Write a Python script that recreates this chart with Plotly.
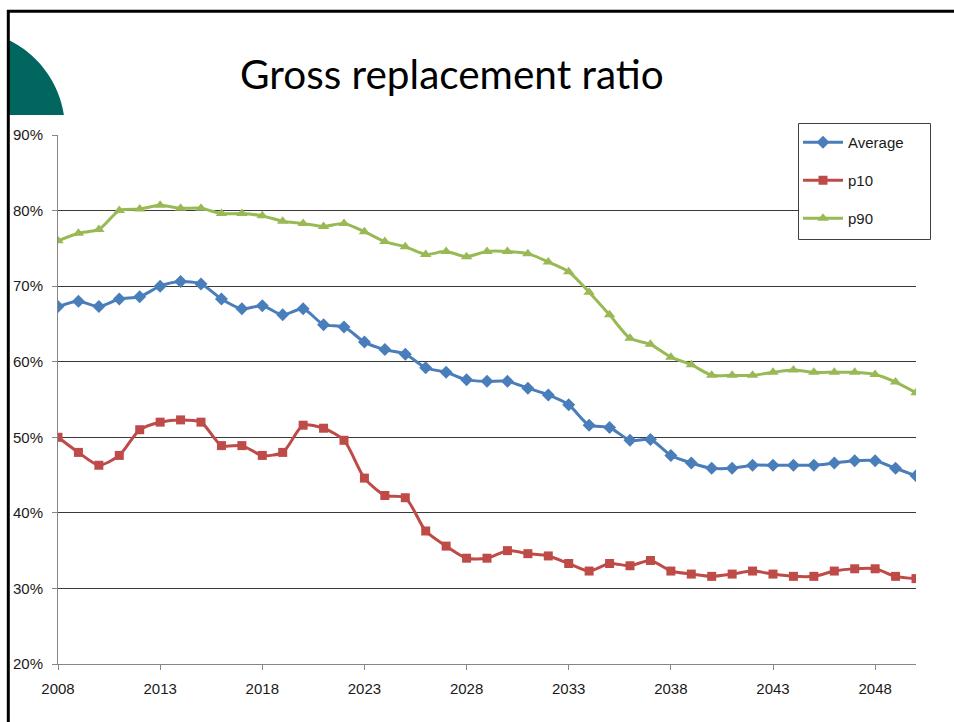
import numpy as np
import plotly.graph_objects as go

# Gross replacement ratio projections, 2008-2050 (percent)
years = list(range(2008, 2051))

average = [67.3, 68.0, 67.3, 68.3, 68.6, 70.0, 70.6, 70.3, 68.3, 67.0,
           67.4, 66.2, 67.0, 64.9, 64.6, 62.6, 61.6, 61.0, 59.2, 58.6,
           57.6, 57.4, 57.4, 56.5, 55.6, 54.3, 51.6, 51.3, 49.6, 49.7,
           47.6, 46.6, 45.9, 45.9, 46.3, 46.3, 46.3, 46.3, 46.6, 46.9,
           46.9, 45.9, 44.9]

p10 = [50.0, 48.0, 46.3, 47.6, 51.0, 52.0, 52.3, 52.0, 48.9, 48.9,
       47.6, 48.0, 51.6, 51.2, 49.6, 44.6, 42.3, 42.0, 37.6, 35.6,
       34.0, 34.0, 35.0, 34.6, 34.3, 33.3, 32.3, 33.3, 33.0, 33.7,
       32.3, 31.9, 31.6, 31.9, 32.3, 31.9, 31.6, 31.6, 32.3, 32.6,
       32.6, 31.6, 31.3]

p90 = [76.0, 77.0, 77.5, 80.0, 80.2, 80.7, 80.3, 80.3, 79.6, 79.6,
       79.3, 78.6, 78.3, 77.9, 78.3, 77.2, 75.9, 75.2, 74.2, 74.6,
       73.9, 74.6, 74.6, 74.3, 73.2, 71.9, 69.2, 66.2, 63.1, 62.3,
       60.6, 59.6, 58.2, 58.2, 58.2, 58.6, 58.9, 58.6, 58.6, 58.6,
       58.3, 57.3, 55.9]

x_ticks = [2008, 2013, 2018, 2023, 2028, 2033, 2038, 2043, 2048]
y_ticks = [20, 30, 40, 50, 60, 70, 80, 90]

W, H = 954, 722
L, R, T, B = 58, 916, 135, 664  # plot area edges in pixels


def px(x):
    return (x - L) / (R - L)


def py(y):
    return (B - y) / (B - T)


series = [
    ("Average", average, "#4A7EBB", "diamond", 10),
    ("p10", p10, "#BE4B48", "square", 9),
    ("p90", p90, "#98B954", "triangle-up", 10),
]

fig = go.Figure()
for i, (name, vals, color, symbol, size) in enumerate(series):
    fig.add_trace(go.Scatter(
        x=years, y=vals, name=name, mode="lines+markers",
        legendgroup=f"g{i}",
        line=dict(color=color, width=3, shape="spline", smoothing=0.7),
        marker=dict(symbol=symbol, size=size, color=color,
                    line=dict(width=0)),
    ))

# teal corner badge (circle segment clipped by the frame)
cx, cy, r = -35.0, 130.0, 100.0
a0 = np.arctan2(39.7 - cy, 8 - cx)
a1 = np.arctan2(115 - cy, 63.9 - cx)
angles = np.linspace(a0, a1, 40)
pts = [(cx + r * np.cos(a), cy + r * np.sin(a)) for a in angles]
path = f"M {px(8):.5f},{py(115):.5f} L {px(8):.5f},{py(39.7):.5f} "
path += " ".join(f"L {px(x):.5f},{py(y):.5f}" for x, y in pts)
path += " Z"

shapes = [
    dict(type="path", xref="paper", yref="paper", path=path,
         fillcolor="#00665E", line=dict(width=0), layer="above"),
    # slide frame: top and left rules
    dict(type="line", xref="paper", yref="paper",
         x0=px(7), x1=px(W + 5), y0=py(11.3), y1=py(11.3),
         line=dict(color="black", width=3)),
    dict(type="line", xref="paper", yref="paper",
         x0=px(8.3), x1=px(8.3), y0=py(10), y1=py(H + 5),
         line=dict(color="black", width=3)),
    # legend box
    dict(type="rect", xref="paper", yref="paper",
         x0=px(798.5), x1=px(930.5), y0=py(239.5), y1=py(123.5),
         fillcolor="white", line=dict(color="#404040", width=1),
         layer="above"),
]

fig.update_layout(
    width=W, height=H,
    margin=dict(l=L, r=W - R, t=T, b=H - B),
    paper_bgcolor="white", plot_bgcolor="white",
    showlegend=True,
    font=dict(family="Liberation Sans, Arial, sans-serif", size=15,
              color="#1a1a1a"),
    xaxis=dict(
        range=[2008, 2050], tickmode="array", tickvals=x_ticks,
        ticktext=[str(v) for v in x_ticks],
        showgrid=False, zeroline=False, showline=True,
        linecolor="#868686", linewidth=1,
        ticks="outside", ticklen=5, tickcolor="#868686",
        tickfont=dict(size=15), ticklabelstandoff=6,
    ),
    yaxis=dict(
        range=[20, 90], tickmode="array", tickvals=y_ticks,
        ticktext=[f"{v}%" for v in y_ticks],
        showgrid=True, gridcolor="#3a3a3a", gridwidth=1,
        zeroline=False, showline=True,
        linecolor="#868686", linewidth=1,
        ticks="outside", ticklen=5, tickcolor="#868686",
        tickfont=dict(size=15), ticklabelstandoff=6,
    ),
    legend=dict(
        x=px(798), y=py(126), xanchor="left", yanchor="top",
        bgcolor="rgba(0,0,0,0)", borderwidth=0,
        font=dict(size=15, color="#1a1a1a"),
        traceorder="grouped", tracegroupgap=15.5,
        itemwidth=40,
    ),
    shapes=shapes,
    annotations=[dict(
        text="Gross replacement ratio", xref="paper", yref="paper",
        x=px(451.5), y=py(73), xanchor="center", yanchor="middle",
        showarrow=False,
        font=dict(family="Lato, sans-serif", size=40.5, color="black"),
    )],
)

fig.write_html("out.html")
